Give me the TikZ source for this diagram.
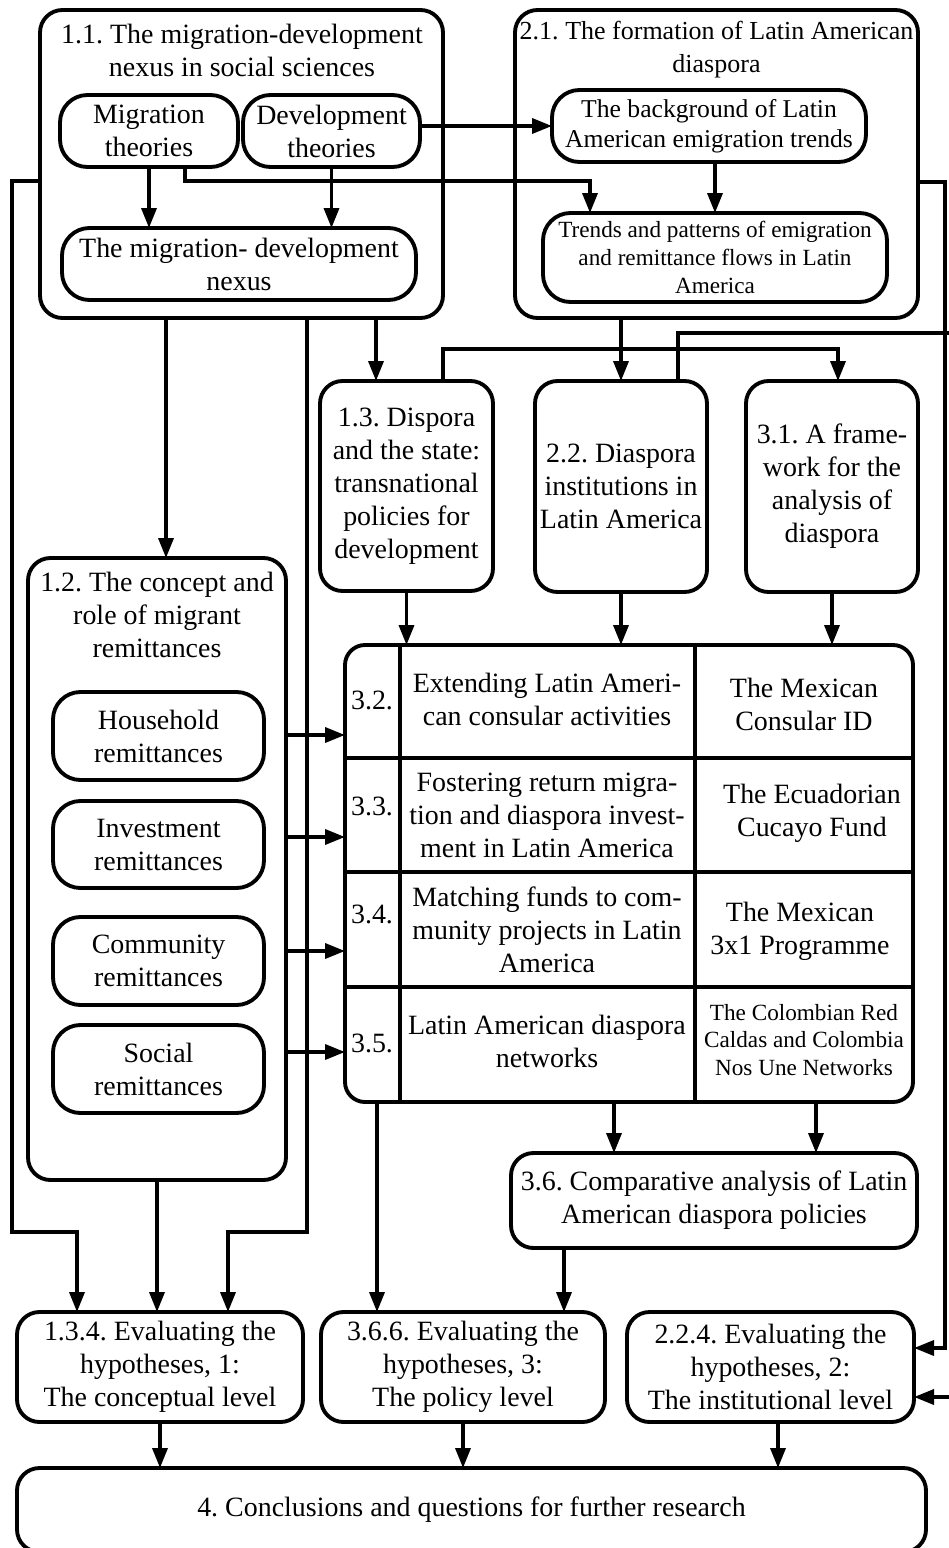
\documentclass[tikz,border=0pt]{standalone}
\usepackage{fontspec}
\setmainfont{Liberation Serif}
\frenchspacing
\usetikzlibrary{arrows.meta,calc,positioning}
\tikzset{
        box/.style = {draw, rectangle, rounded corners=0.45cm,
            line width=2.2pt, inner sep=0pt, outer sep=0pt, align=center},
        pill/.style = {box, rounded corners=0.55cm},
        sz/.style 2 args = {minimum width=#1*0.02cm, minimum height=#2*0.02cm},
        txt/.style = {align=center, inner sep=0pt},
        arrow/.style = {draw, line width=2pt, -{Triangle[length=0.4cm,width=0.3cm]}},
        wire/.style = {draw, line width=2.2pt},
        small/.style = {font=\fontsize{13.2}{15.9}\selectfont},
    }

\begin{document}
\begin{tikzpicture}[x=0.02cm, y=-0.02cm, font=\fontsize{15.9}{18.8}\selectfont]
                    \useasboundingbox (0,0) rectangle (949,1548);

                    \node[box, sz={403}{308}] (b11) at (241.5,164) {};
                    \node[txt] (t11) at (242,50) {1.1. The migration-development\\nexus in social sciences};
                    \node[pill, sz={178}{72}] (mig) at (149,131) {Migration\\theories};
                    \node[pill, sz={177}{72}] (dev) at (331.5,131) {Development\\theories};
                    \node[pill, sz={354}{72}] (nex) at (239,264) {The migration- development\\nexus};

                    \node[box, sz={403}{308}] (b21) at (716.5,164) {};
                    \node[txt, font=\fontsize{14.8}{18.8}\selectfont] (t21) at (716.5,50) {2.1. The formation of Latin American\\diaspora};
                    \node[pill, sz={314}{72}, font=\fontsize{14.6}{17}\selectfont] (bgd) at (709,126) {The background of Latin\\American emigration trends};
                    \node[pill, sz={344}{89}, small] (trd) at (715,257.5) {Trends and patterns of emigration\\and remittance flows in Latin\\America};

                    \node[box, sz={173}{210}] (b13) at (406.5,486) {1.3. Dispora\\and the state:\\transnational\\policies for\\development};
                    \node[box, sz={172}{211}] (b22) at (621,486.5) {2.2. Diaspora\\institutions in\\Latin America};
                    \node[box, sz={172}{211}] (b31) at (832,486.5) {3.1. A frame-\\work for the\\analysis of\\diaspora};

                    \node[box, sz={258}{622}] (b12) at (157,869) {};
                    \node[txt] (t12) at (157,615) {1.2. The concept and\\role of migrant\\remittances};
                    \node[pill, sz={211}{88}] (hh) at (158.5,736) {Household\\remittances};
                    \node[pill, sz={211}{87}] (inv) at (158.5,844.5) {Investment\\remittances};
                    \node[pill, sz={211}{88}] (com) at (158.5,961) {Community\\remittances};
                    \node[pill, sz={211}{88}] (soc) at (158.5,1069) {Social\\remittances};

                    \node[box, sz={568}{457}, rounded corners=0.4cm] (tab) at (629,873.5) {};
                    \coordinate (c1) at (400,645);
                    \coordinate (c2) at (695,645);
                    \draw[wire] (tab.north -| c1) -- (tab.south -| c1);
                    \draw[wire] (tab.north -| c2) -- (tab.south -| c2);
                    \foreach \y [count=\i] in {758,872,987} {
                        \coordinate (row\i) at (629,\y);
                        \draw[wire] (tab.west |- row\i) -- (tab.east |- row\i);
                    }
                    \node (n32) at (372,700) {3.2.};
                    \node (n33) at (372,806) {3.3.};
                    \node (n34) at (372,914) {3.4.};
                    \node (n35) at (372,1043) {3.5.};
                    \node[txt] (m32) at (547,699) {Extending Latin Ameri-\\can consular activities};
                    \node[txt] (m33) at (547,815) {Fostering return migra-\\tion and diaspora invest-\\ment in Latin America};
                    \node[txt] (m34) at (547,930) {Matching funds to com-\\munity projects in Latin\\America};
                    \node[txt] (m35) at (547,1041) {Latin American diaspora\\networks};
                    \node[txt] (r32) at (804,704) {The Mexican\\Consular ID};
                    \node[txt] (r33) at (812,813) {The Ecuadorian\\Cucayo Fund};
                    \node[txt] (r34) at (800,931) {The Mexican\\3x1 Programme};
                    \node[txt, small] (r35) at (804,1040) {The Colombian Red\\Caldas and Colombia\\Nos Une Networks};

                    \node[box, sz={406}{95}] (b36) at (714,1200.5) {3.6. Comparative analysis of Latin\\American diaspora policies};

                    \node[box, sz={286}{110}] (e1) at (160,1367) {1.3.4. Evaluating the\\hypotheses, 1:\\The conceptual level};
                    \node[box, sz={284}{110}] (e3) at (463,1367) {3.6.6. Evaluating the\\hypotheses, 3:\\The policy level};
                    \node[box, sz={287}{110}] (e2) at (770.5,1367) {2.2.4. Evaluating the\\hypotheses, 2:\\The institutional level};
                    \node[box, sz={909}{84}] (fin) at (471.5,1510) {4. Conclusions and questions for further research};

                    \draw[arrow] (mig.south) -- (mig.south |- nex.north);
                    \draw[arrow] (dev.south) -- (dev.south |- nex.north);
                    \coordinate (j1) at (185,181);
                    \coordinate (j2) at (590,181);
                    \draw[arrow] (mig.south -| j1) -- (j1) -- (j2) -- (trd.north -| j2);
                    \draw[arrow] (dev.east |- bgd.west) -- (bgd.west);
                    \draw[arrow] (trd.north |- bgd.south) -- (trd.north);

                    \coordinate (w1) at (12,181);
                    \coordinate (w2) at (12,1232);
                    \coordinate (w3) at (77,1232);
                    \draw[arrow] (b11.west |- w1) -- (w1) -- (w2) -- (w3) -- (e1.north -| w3);
                    \coordinate (k1) at (166,400);
                    \draw[arrow] (b11.south -| k1) -- (b12.north -| k1);
                    \coordinate (k2) at (307,1232);
                    \coordinate (k3) at (228,1232);
                    \draw[arrow] (b11.south -| k2) -- (k2) -- (k3) -- (e1.north -| k3);
                    \coordinate (k4) at (376,350);
                    \draw[arrow] (b11.south -| k4) -- (b13.north -| k4);
                    \coordinate (k5) at (443,349);
                    \coordinate (k6) at (838,349);
                    \draw[arrow] (b13.north -| k5) -- (k5) -- (k6) -- (b31.north -| k6);
                    \draw[arrow] (b21.south -| b22.north) -- (b22.north);
                    \coordinate (k7) at (678,333);
                    \coordinate (k8) at (952,333);
                    \coordinate (k9) at (952,1397);
                    \draw[arrow] (b22.north -| k7) -- (k7) -- (k8) -- (k9) -- (e2.east |- k9);
                    \coordinate (k10) at (945,182);
                    \coordinate (k11) at (945,1348);
                    \draw[arrow] (b21.east |- k10) -- (k10) -- (k11) -- (e2.east |- k11);

                    \draw[arrow] (b13.south) -- (tab.north -| b13.south);
                    \draw[arrow] (b22.south) -- (tab.north -| b22.south);
                    \draw[arrow] (b31.south) -- (tab.north -| b31.south);
                    \foreach \y in {735,837,951,1052} {
                        \coordinate (h) at (300,\y);
                        \draw[arrow] (b12.east |- h) -- (tab.west |- h);
                    }

                    \draw[arrow] (b12.south) -- (e1.north -| b12.south);
                    \coordinate (k13) at (377,1200);
                    \draw[arrow] (tab.south -| k13) -- (e3.north -| k13);
                    \coordinate (k14) at (614,1120);
                    \draw[arrow] (tab.south -| k14) -- (b36.north -| k14);
                    \coordinate (k15) at (816,1120);
                    \draw[arrow] (tab.south -| k15) -- (b36.north -| k15);
                    \coordinate (k16) at (564,1280);
                    \draw[arrow] (b36.south -| k16) -- (e3.north -| k16);

                    \draw[arrow] (e1.south) -- (fin.north -| e1.south);
                    \draw[arrow] (e3.south) -- (fin.north -| e3.south);
                    \coordinate (k17) at (778,1440);
                    \draw[arrow] (e2.south -| k17) -- (fin.north -| k17);
                \end{tikzpicture}
\end{document}
